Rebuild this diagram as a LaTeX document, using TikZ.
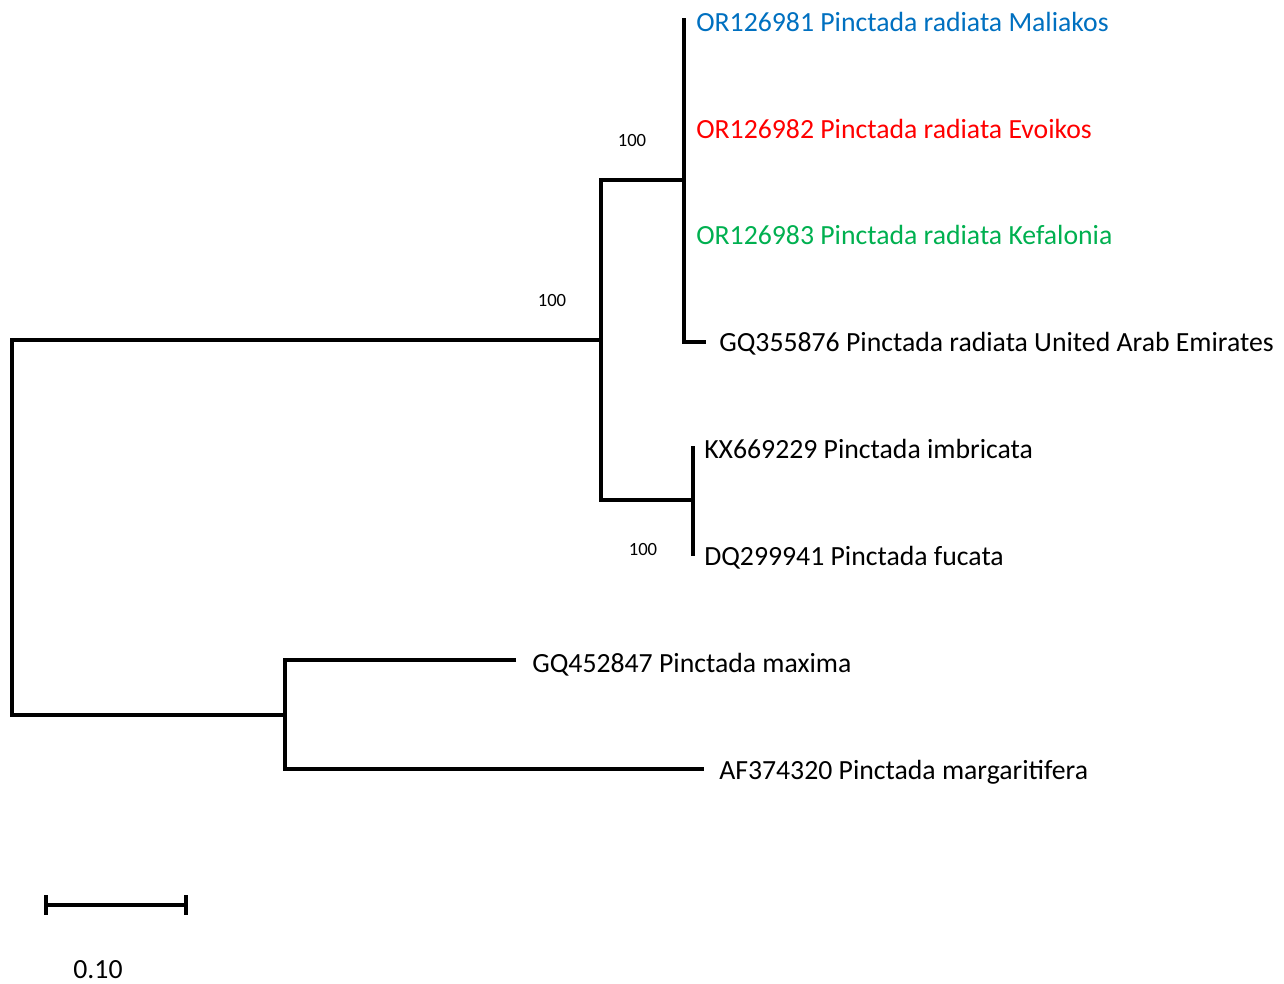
\documentclass[tikz,border=0pt]{standalone}
\usepackage{fontspec}
\setmainfont{Carlito}
\definecolor{cblue}{RGB}{0,112,192}
\definecolor{cred}{RGB}{255,0,0}
\definecolor{cgreen}{RGB}{0,176,80}
\begin{document}
\begin{tikzpicture}[x=0.75pt,y=-0.75pt,
  br/.style={line width=3.3pt,line cap=butt,line join=miter},
  leaf/.style={anchor=base west,inner sep=0pt,font=\fontsize{20.8}{22}\selectfont},
  boot/.style={anchor=base,inner sep=0pt,font=\fontsize{14}{15}\selectfont}]
\useasboundingbox (0,0) rectangle (1284,983);
% internal nodes
\coordinate (root) at (12,340);
\coordinate (nA) at (601,340);
\coordinate (nB) at (684,180);
\coordinate (nC) at (693,500);
\coordinate (nD) at (285,715);
\coordinate (rootlow) at (12,715);
% leaves
\node[leaf,text=cblue] (l1) at (696,31) {OR126981 Pinctada radiata Maliakos};
\node[leaf,text=cred] (l2) at (696,138) {OR126982 Pinctada radiata Evoikos};
\node[leaf,text=cgreen] (l3) at (696,244) {OR126983 Pinctada radiata Kefalonia};
\node[leaf] (l4) at (719,351) {GQ355876 Pinctada radiata United Arab Emirates};
\node[leaf] (l5) at (704,458) {KX669229 Pinctada imbricata};
\node[leaf] (l6) at (704,565) {DQ299941 Pinctada fucata};
\node[leaf] (l7) at (532,672) {GQ452847 Pinctada maxima};
\node[leaf] (l8) at (719,779) {AF374320 Pinctada margaritifera};
% branch tips
\coordinate (t1) at (684,18);
\coordinate (t4) at (706,342);
\coordinate (t5) at (693,446);
\coordinate (t6) at (693,556);
\coordinate (t7) at (516,660);
\coordinate (t8) at (704,769);
% tree
\draw[br] (nA) -- (root) -- (rootlow) -- (nD);
\draw[br] (nB |- 0,180) -- (nA |- 0,180) -- (nA |- 0,500) -- (nC);
\draw[br] (t1) -- (nB |- t4) -- (t4);
\draw[br] (t5) -- (t6);
\draw[br] (t7) -- (nD |- t7) -- (nD |- t8) -- (t8);
% bootstrap
\node[boot] (b1) at (632,146) {100};
\node[boot] (b2) at (552,306) {100};
\node[boot] (b3) at (643,555) {100};
% scale bar
\coordinate (s1) at (46,905);
\coordinate (s2) at (186,905);
\draw[br] (s1) -- (s2);
\draw[br] ([yshift=7.5pt]s1) -- ([yshift=-7.5pt]s1);
\draw[br] ([yshift=7.5pt]s2) -- ([yshift=-7.5pt]s2);
\node[leaf,anchor=base] (sl) at (98,978) {0.10};
\end{tikzpicture}
\end{document}
